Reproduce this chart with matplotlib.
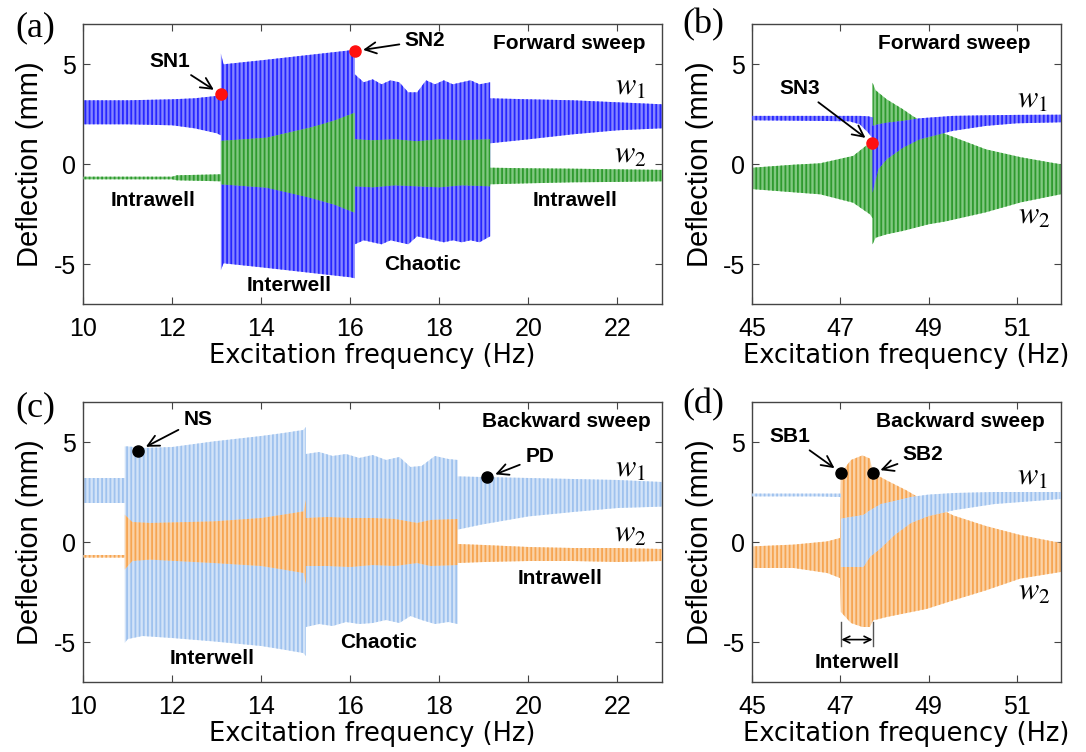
import matplotlib
matplotlib.use('Agg')
import matplotlib.pyplot as plt

plt.rcParams.update({
    'font.family': ['Liberation Sans', 'DejaVu Sans'],
    'mathtext.fontset': 'stix',
    'axes.unicode_minus': False,
    'hatch.linewidth': 1.3,
})

# ---- data: envelopes (frequency, upper, lower) ----
# (a) forward sweep, 10-23 Hz
a_w1_f = [10.0, 11.0, 12.0, 12.5, 13.0, 13.09,
          13.09, 13.15, 14.0, 15.0, 16.0, 16.1,
          16.1, 16.3, 16.5, 16.7, 16.9, 17.1, 17.3, 17.5, 17.7, 17.9, 18.1, 18.3, 18.5, 18.7, 18.9, 19.14,
          19.14, 20.0, 21.0, 22.0, 23.0]
a_w1_up = [3.2, 3.2, 3.25, 3.3, 3.42, 3.5,
           5.55, 5.0, 5.2, 5.45, 5.7, 5.72,
           4.5, 4.1, 4.25, 4.0, 4.2, 4.1, 3.6, 3.6, 4.2, 4.0, 4.2, 4.0, 4.1, 4.2, 4.0, 4.1,
           3.3, 3.25, 3.2, 3.1, 3.0]
a_w1_lo = [2.0, 2.0, 1.95, 1.8, 1.55, 1.45,
           -5.3, -4.95, -5.15, -5.4, -5.65, -5.7,
           -4.0, -3.8, -3.9, -4.0, -3.8, -3.9, -4.0, -3.6, -3.7, -3.8, -3.9, -3.8, -3.9, -3.8, -3.9, -3.6,
           1.05, 1.25, 1.5, 1.7, 1.8]
a_w2_f = [10.0, 12.0, 12.1, 13.09,
          13.09, 14.12, 15.09, 15.62, 16.1,
          16.1, 16.5, 17.0, 17.5, 18.0, 18.5, 19.14,
          19.14, 20.0, 21.0, 22.0, 23.0]
a_w2_up = [-0.62, -0.62, -0.55, -0.5,
           1.17, 1.33, 1.83, 2.17, 2.58,
           1.25, 1.2, 1.25, 1.15, 1.25, 1.2, 1.25,
           -0.17, -0.2, -0.22, -0.25, -0.28]
a_w2_lo = [-0.75, -0.75, -0.8, -0.85,
           -1.0, -1.17, -1.67, -2.0, -2.42,
           -1.1, -1.15, -1.05, -1.1, -1.15, -1.05, -1.1,
           -1.0, -0.95, -0.9, -0.88, -0.85]

# (b) forward sweep, 45-52 Hz
b_w1_f = [45.0, 46.54, 47.2, 47.44, 47.63, 47.73,
          47.73, 47.86, 48.05, 48.42, 48.8, 49.55, 50.3, 51.0, 52.0]
b_w1_up = [2.42, 2.42, 2.42, 2.42, 2.4, 2.35,
           1.92, 2.0, 2.08, 2.17, 2.3, 2.42, 2.45, 2.47, 2.48]
b_w1_lo = [2.2, 2.17, 2.15, 2.0, 1.58, 1.3,
           -1.42, -0.25, 0.25, 0.83, 1.25, 1.67, 1.92, 2.05, 2.1]
b_w2_f = [45.0, 45.94, 46.54, 47.29, 47.67, 47.73,
          47.73, 47.8, 48.05, 48.42, 48.65, 49.0, 49.4, 50.3, 51.1, 52.0]
b_w2_up = [-0.17, -0.02, 0.05, 0.42, 1.08, 1.2,
           4.08, 3.7, 3.25, 2.75, 2.4, 1.95, 1.5, 0.75, 0.35, 0.0]
b_w2_lo = [-1.24, -1.4, -1.5, -1.92, -2.5, -2.7,
           -4.0, -3.67, -3.5, -3.33, -3.2, -3.0, -2.85, -2.4, -1.9, -1.5]

# (c) backward sweep, 10-23 Hz
c_w1_f = [10.0, 10.93,
          10.93, 11.0, 11.33, 12.0, 12.93, 14.0, 14.5, 14.94, 15.0,
          15.0, 15.3, 15.6, 15.9, 16.2, 16.5, 16.8, 17.1, 17.35, 17.6, 17.9, 18.2, 18.41,
          18.41, 18.94, 20.0, 21.0, 22.0, 23.0]
c_w1_up = [3.2, 3.2,
           4.78, 4.78, 4.7, 4.75, 5.03, 5.3, 5.45, 5.6, 5.75,
           4.4, 4.5, 4.3, 4.4, 4.2, 4.35, 4.1, 4.25, 3.75, 3.8, 4.3, 4.15, 4.1,
           3.28, 3.25, 3.2, 3.15, 3.1, 3.0]
c_w1_lo = [1.95, 1.95,
           -5.05, -4.85, -4.7, -4.8, -4.97, -5.2, -5.38, -5.55, -5.7,
           -4.25, -4.1, -4.2, -4.0, -4.1, -4.05, -3.9, -4.05, -3.7, -3.9, -4.1, -4.0, -4.1,
           0.62, 0.87, 1.28, 1.5, 1.7, 1.77]
c_w2_f = [10.0, 10.93,
          10.93, 11.1, 11.5, 12.93, 14.0, 14.5, 14.95, 15.0,
          15.0, 15.5, 16.0, 16.5, 17.0, 17.5, 17.8, 18.41,
          18.41, 19.0, 20.0, 21.0, 22.0, 23.0]
c_w2_up = [-0.65, -0.65,
           1.37, 1.0, 0.95, 1.03, 1.2, 1.37, 1.53, 2.1,
           1.2, 1.25, 1.2, 1.2, 1.15, 0.95, 1.1, 1.15,
           -0.1, -0.15, -0.25, -0.3, -0.3, -0.35]
c_w2_lo = [-0.78, -0.78,
           -1.38, -0.95, -0.88, -1.05, -1.2, -1.38, -1.55, -2.1,
           -1.2, -1.2, -1.25, -1.15, -1.2, -1.05, -1.2, -1.15,
           -1.05, -1.0, -0.95, -0.95, -1.0, -0.95]

# (d) backward sweep, 45-52 Hz
d_w1_f = [45.0, 46.5, 46.99, 47.01,
          47.01, 47.52, 47.67, 47.92, 48.23, 48.6, 49.0, 49.6, 50.5, 51.1, 52.0]
d_w1_up = [2.42, 2.42, 2.42, 2.42,
           1.17, 1.35, 1.58, 1.9, 2.05, 2.25, 2.37, 2.45, 2.5, 2.5, 2.5]
d_w1_lo = [2.28, 2.28, 2.25, 2.2,
           -1.25, -1.25, -0.75, -0.3, 0.35, 0.95, 1.3, 1.6, 1.9, 2.0, 2.15]
d_w2_f = [45.0, 45.94, 46.7, 46.99,
          47.01, 47.24, 47.5, 47.67, 47.74, 48.05, 48.5, 48.95, 49.56, 50.3, 51.08, 52.0]
d_w2_up = [-0.22, -0.13, 0.03, 0.2,
           3.45, 4.1, 4.33, 4.17, 3.45, 3.08, 2.58, 2.0, 1.33, 0.8, 0.35, -0.05]
d_w2_lo = [-1.3, -1.3, -1.55, -1.8,
           -3.5, -4.05, -4.25, -4.25, -3.92, -3.75, -3.55, -3.35, -2.92, -2.42, -1.83, -1.5]

# bifurcation points
sn_pts = {'SN1': (13.09, 3.5), 'SN2': (16.1, 5.66), 'SN3': (47.72, 1.07)}
ns_pt, pd_pt = (11.24, 4.57), (19.08, 3.23)
sb_pts = {'SB1': (47.02, 3.45), 'SB2': (47.73, 3.45)}

# ---- style ----
BLUE, BLUE_L = '#8585ff', '#2626ff'
GREEN, GREEN_L = '#80c880', '#2e9a2e'
LBLUE, LBLUE_L = '#d2e3f8', '#9fc2ee'
ORANGE, ORANGE_L = '#fbd2a6', '#f6a552'
SPINE = '#444444'
TICK_FS, ANN_FS = 18, 15

W, H = 1086, 752
fig = plt.figure(figsize=(W / 100, H / 100), dpi=100)
fig.patch.set_facecolor('white')


def px_axes(l, t, r, b):
    return fig.add_axes([l / W, 1 - b / H, (r - l) / W, (b - t) / H])


ax_a = px_axes(83.3, 24.3, 662, 304.3)
ax_b = px_axes(752.3, 24.3, 1060.7, 304.3)
ax_c = px_axes(83.3, 402, 662, 682)
ax_d = px_axes(752.3, 402, 1060.7, 682)


def band(ax, f, up, lo, face, line, z):
    ax.fill_between(f, lo, up, facecolor=face, edgecolor=line,
                    hatch='||||', linewidth=0, zorder=z)


def style(ax, xlim, xticks, ylab_x):
    ax.set_xlim(*xlim)
    ax.set_ylim(-7, 7)
    ax.set_xticks(xticks)
    ax.set_yticks([-5, 0, 5])
    ax.tick_params(direction='in', top=True, right=True, length=5,
                   width=0.8, color=SPINE, labelsize=TICK_FS, pad=9)
    ax.tick_params(axis='y', pad=5)
    for s in ax.spines.values():
        s.set_color(SPINE)
        s.set_linewidth(1.0)
    ax.set_xlabel('Excitation frequency (Hz)', fontsize=18.5,
                  family='DejaVu Sans', va='center')
    ax.xaxis.set_label_coords(0.5, -0.185)
    ax.set_ylabel('Deflection (mm)', fontsize=21, va='center')
    ax.yaxis.set_label_coords(ylab_x, 0.5)


def arrow_note(ax, text, xy, xytext, ha='center'):
    ax.annotate(text, xy=xy, xytext=xytext, ha=ha, va='center',
                fontsize=ANN_FS, fontweight='bold', zorder=10,
                arrowprops=dict(arrowstyle='->', color='black', lw=1.3,
                                mutation_scale=20, shrinkA=2, shrinkB=6))


def note(ax, x, y, text, ha='center'):
    ax.text(x, y, text, ha=ha, va='center', fontsize=ANN_FS,
            fontweight='bold', zorder=10)


def wlab(ax, x, y, i):
    ax.text(x, y, r'$w_%d$' % i, ha='center', va='center', fontsize=22, zorder=10)


# ---- (a) ----
band(ax_a, a_w1_f, a_w1_up, a_w1_lo, BLUE, BLUE_L, 2)
band(ax_a, a_w2_f, a_w2_up, a_w2_lo, GREEN, GREEN_L, 3)
style(ax_a, (10, 23), range(10, 23, 2), -0.092)
for k in ('SN1', 'SN2'):
    ax_a.plot(*sn_pts[k], 'o', color='#ff1010', ms=8, zorder=9)
arrow_note(ax_a, 'SN1', sn_pts['SN1'], (11.94, 5.15))
arrow_note(ax_a, 'SN2', sn_pts['SN2'], (17.68, 6.19))
note(ax_a, 22.62, 6.05, 'Forward sweep', ha='right')
note(ax_a, 11.56, -1.82, 'Intrawell')
note(ax_a, 21.05, -1.82, 'Intrawell')
note(ax_a, 14.63, -6.06, 'Interwell')
note(ax_a, 17.62, -5.03, 'Chaotic')
wlab(ax_a, 22.29, 3.9, 1)
wlab(ax_a, 22.29, 0.5, 2)

# ---- (b) ----
band(ax_b, b_w2_f, b_w2_up, b_w2_lo, GREEN, GREEN_L, 2)
band(ax_b, b_w1_f, b_w1_up, b_w1_lo, BLUE, BLUE_L, 3)
style(ax_b, (45, 52), [45, 47, 49, 51], -0.17)
ax_b.plot(*sn_pts['SN3'], 'o', color='#ff1010', ms=8, zorder=9)
arrow_note(ax_b, 'SN3', sn_pts['SN3'], (46.08, 3.8))
note(ax_b, 51.32, 6.05, 'Forward sweep', ha='right')
wlab(ax_b, 51.36, 3.22, 1)
wlab(ax_b, 51.4, -2.56, 2)

# ---- (c) ----
band(ax_c, c_w1_f, c_w1_up, c_w1_lo, LBLUE, LBLUE_L, 2)
band(ax_c, c_w2_f, c_w2_up, c_w2_lo, ORANGE, ORANGE_L, 3)
style(ax_c, (10, 23), range(10, 23, 2), -0.092)
ax_c.plot(*ns_pt, 'o', color='black', ms=8, zorder=9)
ax_c.plot(*pd_pt, 'o', color='black', ms=8, zorder=9)
arrow_note(ax_c, 'NS', ns_pt, (12.58, 6.12))
arrow_note(ax_c, 'PD', pd_pt, (20.25, 4.25))
note(ax_c, 22.74, 6.03, 'Backward sweep', ha='right')
note(ax_c, 12.9, -5.8, 'Interwell')
note(ax_c, 16.64, -5.05, 'Chaotic')
note(ax_c, 20.7, -1.8, 'Intrawell')
wlab(ax_c, 22.29, 3.67, 1)
wlab(ax_c, 22.29, 0.42, 2)

# ---- (d) ----
band(ax_d, d_w2_f, d_w2_up, d_w2_lo, ORANGE, ORANGE_L, 2)
band(ax_d, d_w1_f, d_w1_up, d_w1_lo, LBLUE, LBLUE_L, 3)
style(ax_d, (45, 52), [45, 47, 49, 51], -0.17)
for k in ('SB1', 'SB2'):
    ax_d.plot(*sb_pts[k], 'o', color='black', ms=8, zorder=9)
arrow_note(ax_d, 'SB1', sb_pts['SB1'], (45.86, 5.28))
arrow_note(ax_d, 'SB2', sb_pts['SB2'], (48.88, 4.37))
note(ax_d, 51.64, 6.03, 'Backward sweep', ha='right')
x0, x1 = sb_pts['SB1'][0], sb_pts['SB2'][0]
for xv in (x0, x1):
    ax_d.plot([xv, xv], [-4.0, -5.2], color='#555555', lw=1.0, zorder=6)
ax_d.annotate('', xy=(x0, -4.88), xytext=(x1, -4.88),
              arrowprops=dict(arrowstyle='<->', color='black', lw=1.2,
                              mutation_scale=12, shrinkA=0, shrinkB=0))
note(ax_d, (x0 + x1) / 2, -6.05, 'Interwell')
wlab(ax_d, 51.36, 3.28, 1)
wlab(ax_d, 51.4, -2.47, 2)

# ---- panel letters ----
for (x, y), lab in zip([(35, 28), (703, 25), (35, 408), (703, 405)],
                       ['(a)', '(b)', '(c)', '(d)']):
    fig.text(x / W, 1 - y / H, lab, ha='center', va='center',
             fontsize=26, family='Liberation Serif')

fig.savefig('out.png', dpi=100, facecolor='white')
